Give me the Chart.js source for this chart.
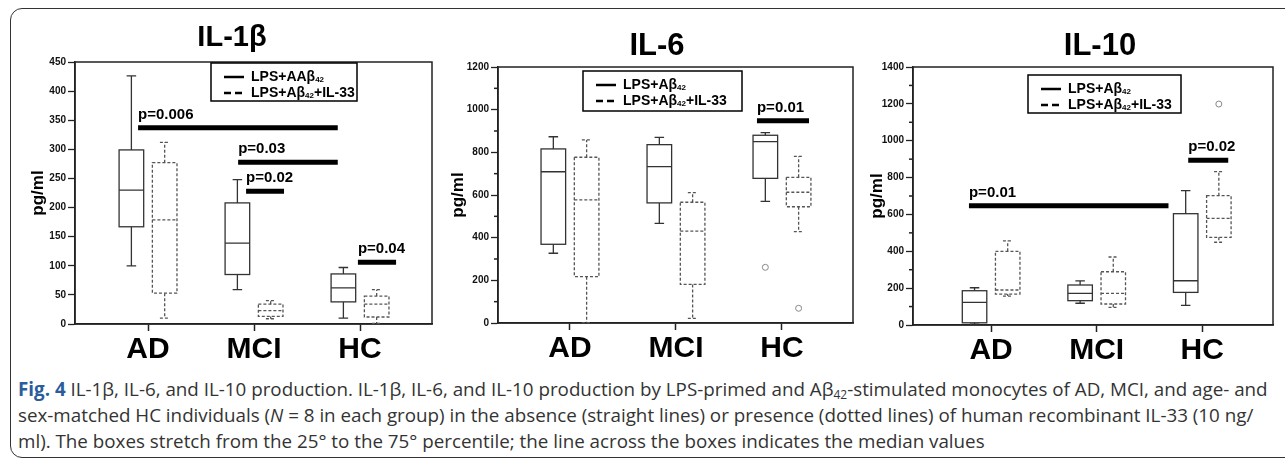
<!DOCTYPE html>
<html>
<head>
<meta charset="utf-8">
<script src="https://cdn.jsdelivr.net/npm/chart.js@4.4.1/dist/chart.umd.min.js"></script>
<style>
  body { margin: 0; background: #fff; width: 1285px; height: 459px; overflow: hidden; position: relative; font-family: Arial, sans-serif; }
  #frame { position: absolute; left: 10px; top: 8px; width: 1300px; height: 450px; border: 1.5px solid #333; border-radius: 12px; box-sizing: border-box; }
  canvas { position: absolute; }
  #caption { position: absolute; left: 18px; top: 376px; font: 18.8px "Open Sans", sans-serif; line-height: 26px; color: #333; white-space: nowrap; }
  #caption b { color: #2b5c9c; }
  #caption sub { font-size: 12px; line-height: 0; vertical-align: -3px; }
</style>
</head>
<body>
<div id="frame"></div>
<canvas id="c1" width="426" height="362" style="left:12px;top:10px"></canvas>
<canvas id="c2" width="420" height="362" style="left:440px;top:10px"></canvas>
<canvas id="c3" width="420" height="362" style="left:862px;top:10px"></canvas>
<div id="caption"><b>Fig. 4</b> IL-1β, IL-6, and IL-10 production. IL-1β, IL-6, and IL-10 production by LPS-primed and Aβ<sub>42</sub>-stimulated monocytes of AD, MCI, and age- and<br>sex-matched HC individuals (<i>N</i> = 8 in each group) in the absence (straight lines) or presence (dotted lines) of human recombinant IL-33 (10 ng/<br>ml). The boxes stretch from the 25° to the 75° percentile; the line across the boxes indicates the median values</div>
<script>
// groups on the x axis
const categories = ["AD", "MCI", "HC"];

// box stats per group: [min, q1, median, q3, max]
const il1bSolid  = [[100, 167, 230, 299, 426], [59, 85, 139, 208, 248], [10, 38, 62, 86, 97]];
const il1bDashed = [[10, 53, 179, 277, 312], [9, 13, 23, 34, 40], [1, 12, 34, 48, 59]];
const il6Solid   = [[327, 369, 709, 816, 873], [467, 563, 733, 836, 870], [570, 678, 850, 880, 892]];
const il6Dashed  = [[2, 217, 577, 777, 858], [22, 181, 431, 566, 611], [428, 545, 613, 683, 781]];
const il10Solid  = [[5, 12, 123, 186, 202], [118, 132, 172, 217, 239], [107, 177, 240, 604, 729]];
const il10Dashed = [[157, 168, 190, 400, 457], [96, 114, 172, 289, 369], [449, 476, 579, 702, 832]];

// outliers: [group, series (0 solid, 1 dashed), value]
const il1bOutliers = [];
const il6Outliers  = [[2, 0, 261], [2, 1, 69]];
const il10Outliers = [[2, 1, 1199]];

// y tick labels
const il1bTicks = [0, 50, 100, 150, 200, 250, 300, 350, 400, 450];
const il6Ticks  = [0, 200, 400, 600, 800, 1000, 1200];
const il10Ticks = [0, 200, 400, 600, 800, 1000, 1200, 1400];

// significance bars: [label, from group, to group, y]
const il1bPvals = [["p=0.006", 0.906, 2.79, 337], ["p=0.03", 1.85, 2.79, 278], ["p=0.02", 1.925, 2.283, 228], ["p=0.04", 2.98, 3.34, 106]];
const il6Pvals  = [["p=0.01", 2.764, 3.255, 948]];
const il10Pvals = [["p=0.01", 0.79, 2.68, 647], ["p=0.02", 2.867, 3.246, 894]];

const il1bLegend = ["LPS+AAβ{42}", "LPS+Aβ{42}+IL-33"];
const otherLegend = ["LPS+Aβ{42}", "LPS+Aβ{42}+IL-33"];

const OFFSET = 0.157;   // box centre distance from group tick
const BOX_W = 0.232;
const CAP_W = 0.09;
const INK = "#222";

const panels = [
  { id: "c1", left: 12, top: 10, plot: [75, 62, 432, 324], xMin: 0.311, xMax: 3.679, yMax: 450, step: 50,
    ticks: il1bTicks, solid: il1bSolid, dashed: il1bDashed, outliers: il1bOutliers, pvals: il1bPvals,
    title: "IL-1β", titlePos: [232, 38], titleSize: 29, legend: il1bLegend, legendBox: [211, 63, 357, 101], yTitlePad: 16 },
  { id: "c2", left: 440, top: 10, plot: [498, 67, 853, 323], xMin: 0.321, xMax: 3.67, yMax: 1200, step: 100,
    ticks: il6Ticks, solid: il6Solid, dashed: il6Dashed, outliers: il6Outliers, pvals: il6Pvals,
    title: "IL-6", titlePos: [657, 46], titleSize: 31, legend: otherLegend, legendBox: [583, 71, 742, 111], yTitlePad: 8 },
  { id: "c3", left: 862, top: 10, plot: [913, 67, 1273, 325], xMin: 0.26, xMax: 3.67, yMax: 1400, step: 100,
    ticks: il10Ticks, solid: il10Solid, dashed: il10Dashed, outliers: il10Outliers, pvals: il10Pvals,
    title: "IL-10", titlePos: [1100, 46], titleSize: 31, legend: otherLegend, legendBox: [1028, 75, 1181, 113], yTitlePad: 5 }
];

function drawRichText(ctx, str, x, y, size) {
  const parts = str.split(/\{(\d+)\}/);
  ctx.textAlign = "left";
  ctx.textBaseline = "middle";
  parts.forEach((p, i) => {
    if (i % 2 === 1) {
      ctx.font = "bold " + Math.round(size * 0.6) + "px Arial";
      ctx.fillText(p, x, y + size * 0.22);
    } else {
      ctx.font = "bold " + size + "px Arial";
      ctx.fillText(p, x, y);
    }
    x += ctx.measureText(p).width;
  });
}

function drawBox(ctx, xs, ys, center, s, dashed) {
  const [mn, q1, md, q3, mx] = s;
  const l = xs.getPixelForValue(center - BOX_W / 2), r = xs.getPixelForValue(center + BOX_W / 2);
  const cx = xs.getPixelForValue(center);
  const cl = xs.getPixelForValue(center - CAP_W / 2), cr = xs.getPixelForValue(center + CAP_W / 2);
  ctx.save();
  ctx.strokeStyle = dashed ? "#555" : "#333";
  ctx.lineWidth = 1.3;
  ctx.setLineDash(dashed ? [3, 2] : []);
  ctx.strokeRect(l, ys.getPixelForValue(q3), r - l, ys.getPixelForValue(q1) - ys.getPixelForValue(q3));
  ctx.beginPath();
  ctx.moveTo(l, ys.getPixelForValue(md)); ctx.lineTo(r, ys.getPixelForValue(md));
  ctx.moveTo(cx, ys.getPixelForValue(q3)); ctx.lineTo(cx, ys.getPixelForValue(mx));
  ctx.moveTo(cl, ys.getPixelForValue(mx)); ctx.lineTo(cr, ys.getPixelForValue(mx));
  ctx.moveTo(cx, ys.getPixelForValue(q1)); ctx.lineTo(cx, ys.getPixelForValue(mn));
  ctx.moveTo(cl, ys.getPixelForValue(mn)); ctx.lineTo(cr, ys.getPixelForValue(mn));
  ctx.stroke();
  ctx.restore();
}

const boxPlugin = {
  id: "boxes",
  beforeDatasetsDraw(chart) {
    const p = chart.options.panel;
    const { ctx, scales: { x, y }, chartArea: a } = chart;
    // frame
    ctx.save();
    ctx.strokeStyle = INK;
    ctx.lineWidth = 1.5;
    ctx.strokeRect(a.left, a.top, a.right - a.left, a.bottom - a.top);
    // short minor ticks
    y.ticks.forEach(t => {
      if (!p.ticks.includes(t.value)) {
        const py = y.getPixelForValue(t.value);
        ctx.beginPath();
        ctx.moveTo(a.left - 4, py); ctx.lineTo(a.left, py);
        ctx.stroke();
      }
    });
    ctx.restore();
    p.solid.forEach((s, i) => drawBox(ctx, x, y, i + 1 - OFFSET, s, false));
    p.dashed.forEach((s, i) => drawBox(ctx, x, y, i + 1 + OFFSET, s, true));
  },
  afterDatasetsDraw(chart) {
    const p = chart.options.panel;
    const { ctx, scales: { x, y } } = chart;
    ctx.save();
    ctx.fillStyle = "#000";
    ctx.strokeStyle = "#000";
    // significance bars
    p.pvals.forEach(([label, from, to, val]) => {
      const py = y.getPixelForValue(val);
      ctx.lineWidth = 5;
      ctx.beginPath();
      ctx.moveTo(x.getPixelForValue(from), py);
      ctx.lineTo(x.getPixelForValue(to), py);
      ctx.stroke();
      ctx.font = "bold 15px Arial";
      ctx.textAlign = "left";
      ctx.textBaseline = "middle";
      ctx.fillText(label, x.getPixelForValue(from), py - 13);
    });
    // legend
    const [bx1, by1, bx2, by2] = p.legendBox.map((v, i) => v - (i % 2 ? p.top : p.left));
    ctx.fillStyle = "#fff";
    ctx.fillRect(bx1, by1, bx2 - bx1, by2 - by1);
    ctx.lineWidth = 1.5;
    ctx.strokeRect(bx1, by1, bx2 - bx1, by2 - by1);
    ctx.fillStyle = "#000";
    p.legend.forEach((txt, i) => {
      const ly = by1 + 14 + i * 16;
      ctx.lineWidth = 2.5;
      ctx.setLineDash(i ? [7, 4] : []);
      ctx.beginPath();
      ctx.moveTo(bx1 + 13, ly); ctx.lineTo(bx1 + 33, ly);
      ctx.stroke();
      ctx.setLineDash([]);
      drawRichText(ctx, txt, bx1 + 40, ly, 14);
    });
    // title
    ctx.font = "bold " + p.titleSize + "px Arial";
    ctx.textAlign = "center";
    ctx.textBaseline = "middle";
    ctx.fillText(p.title, p.titlePos[0] - p.left, p.titlePos[1] - p.top);
    ctx.restore();
  }
};

panels.forEach(p => {
  const canvas = document.getElementById(p.id);
  const [px1, py1, px2, py2] = p.plot;
  const outlierPoints = p.outliers.map(([g, s, v]) => ({ x: g + 1 + (s ? OFFSET : -OFFSET), y: v }));
  new Chart(canvas, {
    type: "scatter",
    data: {
      datasets: [{
        data: outlierPoints,
        pointRadius: 3,
        pointBackgroundColor: "#fff",
        pointBorderColor: "#888",
        pointBorderWidth: 1
      }]
    },
    options: {
      panel: p,
      responsive: false,
      animation: false,
      layout: { padding: { top: py1 - p.top, right: p.left + canvas.width - px2, left: 0, bottom: 0 } },
      plugins: { legend: { display: false }, tooltip: { enabled: false } },
      scales: {
        x: {
          type: "linear",
          min: p.xMin,
          max: p.xMax,
          afterBuildTicks: s => { s.ticks = [1, 2, 3].map(v => ({ value: v })); },
          afterFit: s => { s.height = p.top + canvas.height - py2; },
          ticks: {
            callback: v => categories[v - 1],
            font: { family: "Arial", size: 30, weight: "bold" },
            color: "#000",
            padding: 1,
            maxRotation: 0,
            autoSkip: false
          },
          grid: { drawOnChartArea: false, tickLength: 7, color: INK, tickWidth: 1.5 },
          border: { color: INK, width: 1.5 }
        },
        y: {
          min: 0,
          max: p.yMax,
          afterFit: s => { s.width = px1 - p.left; },
          ticks: {
            stepSize: p.step,
            autoSkip: false,
            callback: v => p.ticks.includes(v) ? String(v) : "",
            font: { family: "Arial", size: 10, weight: "bold" },
            color: "#111",
            padding: 2
          },
          grid: {
            drawOnChartArea: false,
            tickLength: 7,
            tickWidth: 1.3,
            tickColor: c => p.ticks.includes(c.tick.value) ? INK : "transparent"
          },
          border: { color: INK, width: 1.5 },
          title: {
            display: true,
            text: "pg/ml",
            font: { family: "Arial", size: 17, weight: "bold" },
            color: "#000",
            padding: { top: p.yTitlePad, bottom: 0 }
          }
        }
      }
    },
    plugins: [boxPlugin]
  });
});
</script>
</body>
</html>
